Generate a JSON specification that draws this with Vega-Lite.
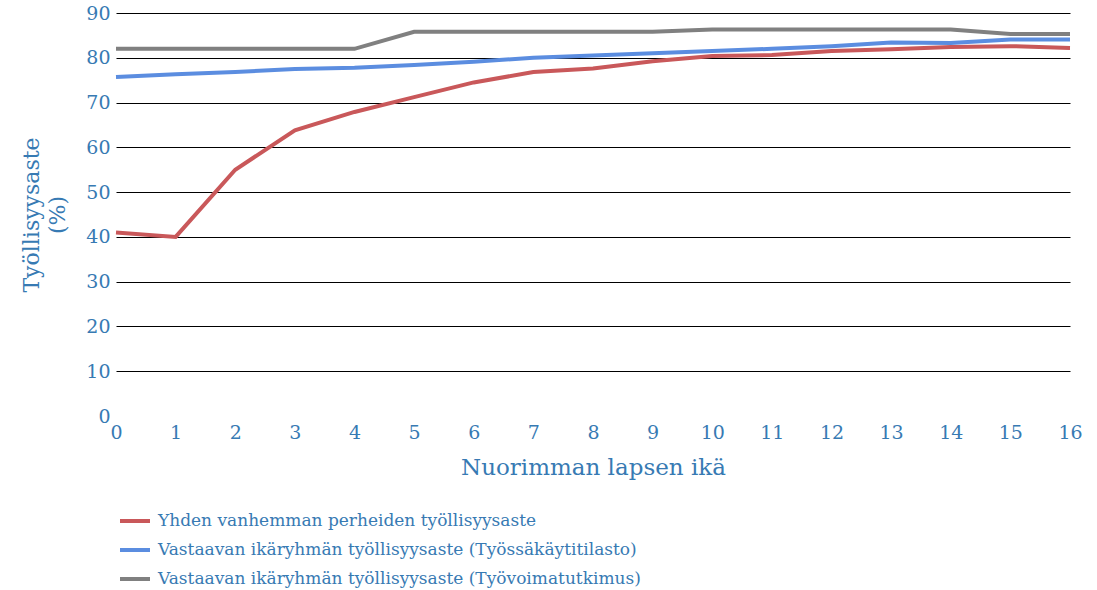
{
  "$schema": "https://vega.github.io/schema/vega-lite/v6.json",
  "width": 954,
  "height": 403,
  "autosize": "none",
  "padding": {"left": 116, "top": 13, "right": 27, "bottom": 174},
  "background": "white",
  "config": {
    "view": {"stroke": null},
    "font": "DejaVu Serif",
    "legend": {"padding": 0}
  },
  "data": {
    "values": [
      {"ika": 0, "sarja": "Yhden vanhemman perheiden työllisyysaste", "arvo": 41},
      {"ika": 1, "sarja": "Yhden vanhemman perheiden työllisyysaste", "arvo": 40},
      {"ika": 2, "sarja": "Yhden vanhemman perheiden työllisyysaste", "arvo": 55},
      {"ika": 3, "sarja": "Yhden vanhemman perheiden työllisyysaste", "arvo": 63.8},
      {"ika": 4, "sarja": "Yhden vanhemman perheiden työllisyysaste", "arvo": 67.9},
      {"ika": 5, "sarja": "Yhden vanhemman perheiden työllisyysaste", "arvo": 71.2},
      {"ika": 6, "sarja": "Yhden vanhemman perheiden työllisyysaste", "arvo": 74.5},
      {"ika": 7, "sarja": "Yhden vanhemman perheiden työllisyysaste", "arvo": 76.8},
      {"ika": 8, "sarja": "Yhden vanhemman perheiden työllisyysaste", "arvo": 77.6},
      {"ika": 9, "sarja": "Yhden vanhemman perheiden työllisyysaste", "arvo": 79.2},
      {"ika": 10, "sarja": "Yhden vanhemman perheiden työllisyysaste", "arvo": 80.4},
      {"ika": 11, "sarja": "Yhden vanhemman perheiden työllisyysaste", "arvo": 80.6},
      {"ika": 12, "sarja": "Yhden vanhemman perheiden työllisyysaste", "arvo": 81.5},
      {"ika": 13, "sarja": "Yhden vanhemman perheiden työllisyysaste", "arvo": 81.9},
      {"ika": 14, "sarja": "Yhden vanhemman perheiden työllisyysaste", "arvo": 82.4},
      {"ika": 15, "sarja": "Yhden vanhemman perheiden työllisyysaste", "arvo": 82.6},
      {"ika": 16, "sarja": "Yhden vanhemman perheiden työllisyysaste", "arvo": 82.2},
      {"ika": 0, "sarja": "Vastaavan ikäryhmän työllisyysaste (Työssäkäytitilasto)", "arvo": 75.7},
      {"ika": 1, "sarja": "Vastaavan ikäryhmän työllisyysaste (Työssäkäytitilasto)", "arvo": 76.3},
      {"ika": 2, "sarja": "Vastaavan ikäryhmän työllisyysaste (Työssäkäytitilasto)", "arvo": 76.8},
      {"ika": 3, "sarja": "Vastaavan ikäryhmän työllisyysaste (Työssäkäytitilasto)", "arvo": 77.5},
      {"ika": 4, "sarja": "Vastaavan ikäryhmän työllisyysaste (Työssäkäytitilasto)", "arvo": 77.8},
      {"ika": 5, "sarja": "Vastaavan ikäryhmän työllisyysaste (Työssäkäytitilasto)", "arvo": 78.4},
      {"ika": 6, "sarja": "Vastaavan ikäryhmän työllisyysaste (Työssäkäytitilasto)", "arvo": 79.1},
      {"ika": 7, "sarja": "Vastaavan ikäryhmän työllisyysaste (Työssäkäytitilasto)", "arvo": 80.0},
      {"ika": 8, "sarja": "Vastaavan ikäryhmän työllisyysaste (Työssäkäytitilasto)", "arvo": 80.5},
      {"ika": 9, "sarja": "Vastaavan ikäryhmän työllisyysaste (Työssäkäytitilasto)", "arvo": 81.0},
      {"ika": 10, "sarja": "Vastaavan ikäryhmän työllisyysaste (Työssäkäytitilasto)", "arvo": 81.5},
      {"ika": 11, "sarja": "Vastaavan ikäryhmän työllisyysaste (Työssäkäytitilasto)", "arvo": 82.0},
      {"ika": 12, "sarja": "Vastaavan ikäryhmän työllisyysaste (Työssäkäytitilasto)", "arvo": 82.6},
      {"ika": 13, "sarja": "Vastaavan ikäryhmän työllisyysaste (Työssäkäytitilasto)", "arvo": 83.4},
      {"ika": 14, "sarja": "Vastaavan ikäryhmän työllisyysaste (Työssäkäytitilasto)", "arvo": 83.3},
      {"ika": 15, "sarja": "Vastaavan ikäryhmän työllisyysaste (Työssäkäytitilasto)", "arvo": 84.1},
      {"ika": 16, "sarja": "Vastaavan ikäryhmän työllisyysaste (Työssäkäytitilasto)", "arvo": 84.1},
      {"ika": 0, "sarja": "Vastaavan ikäryhmän työllisyysaste (Työvoimatutkimus)", "arvo": 82},
      {"ika": 1, "sarja": "Vastaavan ikäryhmän työllisyysaste (Työvoimatutkimus)", "arvo": 82},
      {"ika": 2, "sarja": "Vastaavan ikäryhmän työllisyysaste (Työvoimatutkimus)", "arvo": 82},
      {"ika": 3, "sarja": "Vastaavan ikäryhmän työllisyysaste (Työvoimatutkimus)", "arvo": 82},
      {"ika": 4, "sarja": "Vastaavan ikäryhmän työllisyysaste (Työvoimatutkimus)", "arvo": 82},
      {"ika": 5, "sarja": "Vastaavan ikäryhmän työllisyysaste (Työvoimatutkimus)", "arvo": 85.8},
      {"ika": 6, "sarja": "Vastaavan ikäryhmän työllisyysaste (Työvoimatutkimus)", "arvo": 85.8},
      {"ika": 7, "sarja": "Vastaavan ikäryhmän työllisyysaste (Työvoimatutkimus)", "arvo": 85.8},
      {"ika": 8, "sarja": "Vastaavan ikäryhmän työllisyysaste (Työvoimatutkimus)", "arvo": 85.8},
      {"ika": 9, "sarja": "Vastaavan ikäryhmän työllisyysaste (Työvoimatutkimus)", "arvo": 85.8},
      {"ika": 10, "sarja": "Vastaavan ikäryhmän työllisyysaste (Työvoimatutkimus)", "arvo": 86.3},
      {"ika": 11, "sarja": "Vastaavan ikäryhmän työllisyysaste (Työvoimatutkimus)", "arvo": 86.3},
      {"ika": 12, "sarja": "Vastaavan ikäryhmän työllisyysaste (Työvoimatutkimus)", "arvo": 86.3},
      {"ika": 13, "sarja": "Vastaavan ikäryhmän työllisyysaste (Työvoimatutkimus)", "arvo": 86.3},
      {"ika": 14, "sarja": "Vastaavan ikäryhmän työllisyysaste (Työvoimatutkimus)", "arvo": 86.3},
      {"ika": 15, "sarja": "Vastaavan ikäryhmän työllisyysaste (Työvoimatutkimus)", "arvo": 85.3},
      {"ika": 16, "sarja": "Vastaavan ikäryhmän työllisyysaste (Työvoimatutkimus)", "arvo": 85.3}
    ]
  },
  "mark": {"type": "line", "strokeWidth": 4},
  "encoding": {
    "x": {
      "field": "ika",
      "type": "quantitative",
      "scale": {"domain": [0, 16], "nice": false, "zero": false},
      "axis": {
        "values": [0, 1, 2, 3, 4, 5, 6, 7, 8, 9, 10, 11, 12, 13, 14, 15, 16],
        "grid": false,
        "domain": false,
        "ticks": false,
        "labelFontSize": 19,
        "labelColor": "#377ab3",
        "labelPadding": 7,
        "labelFlush": false,
        "title": "Nuorimman lapsen ikä",
        "titleFontSize": 23,
        "titleFontWeight": "normal",
        "titleColor": "#377ab3",
        "titlePadding": 14
      }
    },
    "y": {
      "field": "arvo",
      "type": "quantitative",
      "scale": {"domain": [0, 90], "nice": false},
      "axis": {
        "values": [0, 10, 20, 30, 40, 50, 60, 70, 80, 90],
        "grid": true,
        "gridColor": "#000000",
        "gridWidth": 1,
        "gridOpacity": {"condition": {"test": "datum.value === 0", "value": 0}, "value": 1},
        "domain": false,
        "ticks": false,
        "labelFontSize": 19,
        "labelColor": "#377ab3",
        "labelPadding": 6,
        "title": ["Työllisyysaste", "(%)"],
        "titleFontSize": 22,
        "titleFontWeight": "normal",
        "titleColor": "#377ab3",
        "titlePadding": 16,
        "titleLineHeight": 26
      }
    },
    "color": {
      "field": "sarja",
      "type": "nominal",
      "sort": null,
      "scale": {
        "domain": [
          "Yhden vanhemman perheiden työllisyysaste",
          "Vastaavan ikäryhmän työllisyysaste (Työssäkäytitilasto)",
          "Vastaavan ikäryhmän työllisyysaste (Työvoimatutkimus)"
        ],
        "range": ["#c9585a", "#5b8de0", "#808080"]
      },
      "legend": {
        "title": null,
        "orient": "none",
        "legendX": 2,
        "legendY": 491,
        "symbolType": "stroke",
        "symbolSize": 900,
        "symbolStrokeWidth": 4,
        "labelFontSize": 17,
        "labelColor": "#377ab3",
        "labelLimit": 800,
        "labelOffset": 6,
        "rowPadding": 4
      }
    }
  }
}
